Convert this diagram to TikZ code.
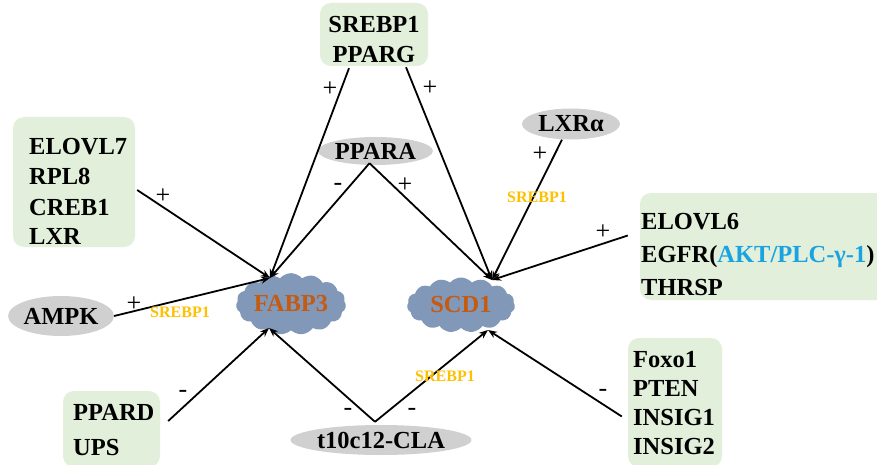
\documentclass[tikz,border=0pt]{standalone}
\usepackage{fontspec}
\setmainfont{Liberation Serif}
\usetikzlibrary{shapes.geometric,shapes.symbols,arrows.meta,calc}
\definecolor{boxgreen}{HTML}{E2EFDA}
\definecolor{ellgray}{HTML}{D0D0D0}
\definecolor{cloudblue}{HTML}{8198B9}
\definecolor{cloudtext}{HTML}{C55A11}
\definecolor{srebpy}{HTML}{FFC000}
\definecolor{aktblue}{HTML}{1AA3E0}
\begin{document}
\begin{tikzpicture}[x=1pt,y=-1pt,
 gbox/.style={fill=boxgreen, rounded corners=11pt, inner sep=0pt, draw=none},
 tline/.style={font=\fontsize{24.5}{28}\selectfont\bfseries, inner sep=0pt, anchor=base west},
 cline/.style={font=\fontsize{24.5}{28}\selectfont\bfseries, inner sep=0pt, anchor=base},
 ell/.style={ellipse, fill=ellgray, inner sep=0pt, font=\fontsize{24.5}{28}\selectfont\bfseries},
 cld/.style={cloud, cloud puffs=15, cloud puff arc=100, aspect=2, fill=cloudblue, inner sep=0pt, font=\fontsize{24.5}{28}\selectfont\bfseries, text=cloudtext},
 sign/.style={font=\fontsize{26}{28}\selectfont, inner sep=0pt},
 srebp/.style={font=\fontsize{16}{18}\selectfont\bfseries, text=srebpy, inner sep=0pt},
 arr/.style={line width=1.8pt, -{Stealth[length=9pt,width=7pt]}},
]
\useasboundingbox (0,0) rectangle (877,465);
\clip (0,0) rectangle (877,465);
\fill[white] (0,0) rectangle (877,465);

% green boxes
\node[gbox, minimum width=108pt, minimum height=63pt] (topbox) at (374,34.5) {};
\node[cline] (t1) at (374,33) {SREBP1};
\node[cline] (t2) at (374,63) {PPARG};

\node[gbox, minimum width=122pt, minimum height=130pt] (elovl7) at (74,182) {};
\node[tline] (e1) at (29,155) {ELOVL7};
\node[tline] (e2) at (29,185) {RPL8};
\node[tline] (e3) at (29,215) {CREB1};
\node[tline] (e4) at (29,244) {LXR};

\node[gbox, minimum width=260pt, minimum height=107pt] (elovl6) at (770,246.5) {};
\node[tline] (g1) at (641,229) {ELOVL6};
\node[tline] (g2) at (641,262) {EGFR(\textcolor{aktblue}{AKT/PLC-γ-1})};
\node[tline] (g3) at (641,295) {THRSP};

\node[gbox, minimum width=94pt, minimum height=129pt] (foxo) at (675,402.5) {};
\node[tline] (f1) at (633,367) {Foxo1};
\node[tline] (f2) at (633,396) {PTEN};
\node[tline] (f3) at (633,425) {INSIG1};
\node[tline] (f4) at (633,454) {INSIG2};

\node[gbox, minimum width=97pt, minimum height=76pt] (ppard) at (111.5,429) {};
\node[tline] (d1) at (73,420) {PPARD};
\node[tline] (d2) at (73,455) {UPS};

% ellipses
\node[ell, minimum width=107pt, minimum height=28pt] (ppara) at (375.5,151) {PPARA};
\node[ell, minimum width=98pt, minimum height=31pt] (lxra) at (571,124) {LXRα};
\node[ell, minimum width=102pt, minimum height=40pt] (ampk) at (61,316) {AMPK};
\node[ell, minimum width=163pt, minimum height=30pt] (cla) at (381,440) {t10c12-CLA};

% clouds
\node[cld, minimum width=110pt, minimum height=54pt] (fabp) at (291,304) {FABP3};
\node[cld, minimum width=108pt, minimum height=55pt] (scd) at (461,305) {SCD1};

\coordinate (fabpT) at ($(fabp)+(-21,-26)$);
\coordinate (fabpB) at ($(fabp)+(-22,24)$);
\coordinate (scdT) at ($(scd)+(31,-25)$);
\coordinate (scdB) at ($(scd)+(27,25)$);

% connectors
\draw[arr] ([xshift=-25pt,yshift=-2pt]topbox.south) -- (fabpT);
\draw[arr] ([xshift=32pt,yshift=-1pt]topbox.south) -- (scdT);
\draw[arr] ([xshift=-6pt,yshift=2pt]ppara.south) -- (fabpT);
\draw[arr] ([xshift=-6pt,yshift=2pt]ppara.south) -- (scdT);
\draw[arr] ([xshift=2pt,yshift=-8pt]elovl7.east) -- (fabpT);
\draw[arr] (ampk.east) -- (fabpT);
\draw[arr] ([xshift=-9pt]lxra.south) -- (scdT);
\draw[arr] ([xshift=-12pt,yshift=11pt]elovl6.west) -- (scdT);
\draw[arr] ([xshift=8pt,yshift=8pt]ppard.east) -- (fabpB);
\draw[arr] ([xshift=-6pt,yshift=3pt]cla.north) -- (fabpB);
\draw[arr] ([xshift=-6pt,yshift=3pt]cla.north) -- (scdB);
\draw[arr] ([xshift=-6pt,yshift=-14pt]foxo.west) -- (scdB);

% signs
\node[sign] (s1) at (330,89) {+};
\node[sign] (s2) at (430,88) {+};
\node[sign] (s3) at (338,187) {-};
\node[sign] (s4) at (405,185) {+};
\node[sign] (s5) at (163,196) {+};
\node[sign] (s6) at (134,304) {+};
\node[sign] (s7) at (540,154) {+};
\node[sign] (s8) at (603,232) {+};
\node[sign] (s9) at (183,394) {-};
\node[sign] (s10) at (348,412) {-};
\node[sign] (s11) at (412,412) {-};
\node[sign] (s12) at (603,393) {-};

% SREBP1 mediators
\node[srebp] (m1) at (180,312) {SREBP1};
\node[srebp] (m2) at (537,197) {SREBP1};
\node[srebp] (m3) at (445,376) {SREBP1};
\end{tikzpicture}
\end{document}
